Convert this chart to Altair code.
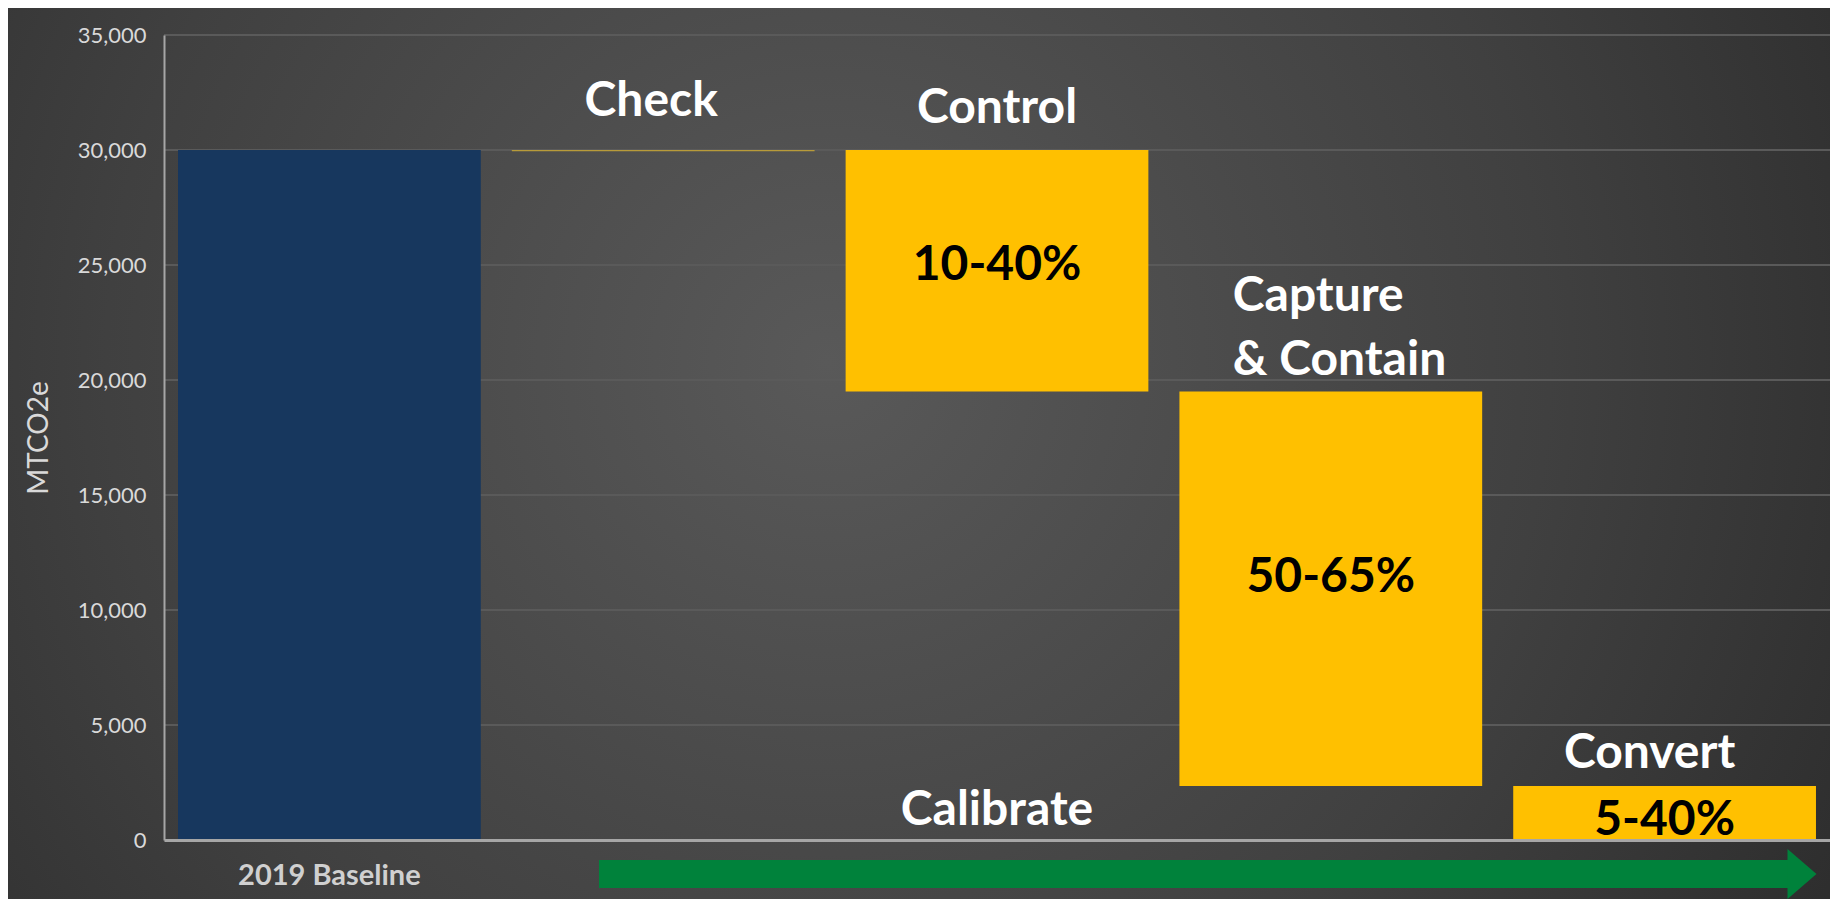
import altair as alt
import pandas as pd

# ---- data -------------------------------------------------------------
categories = ["2019 Baseline", "Check", "Control", "Capture & Contain", "Convert"]
bar_start = [0, 30000, 30000, 19500, 2350]
bar_end = [30000, 29950, 19500, 2350, 0]
bar_kind = ["baseline", "check", "step", "step", "step"]

y_ticks = [0, 5000, 10000, 15000, 20000, 25000, 30000, 35000]

range_cats = ["Control", "Capture & Contain", "Convert"]
range_text = ["10-40%", "50-65%", "5-40%"]

FONT = "Lato"
W, H = 1666, 805
PAD_L, PAD_T, PAD_B = 156, 27, 59

bars_df = pd.DataFrame({"cat": categories, "start": bar_start, "end": bar_end, "kind": bar_kind})
x_scale = alt.Scale(domain=categories, paddingInner=0.093, paddingOuter=0.042)
y_scale = alt.Scale(domain=[0, 35000], nice=False)

# background with radial gradient (decoration)
one = pd.DataFrame({"a": [0]})
background = alt.Chart(one).mark_rect(
    fill={
        "gradient": "radial",
        "x1": 0.45, "y1": 0.45, "r1": 0,
        "x2": 0.45, "y2": 0.45, "r2": 0.72,
        "stops": [
            {"offset": 0, "color": "#595959"},
            {"offset": 0.55, "color": "#404040"},
            {"offset": 1, "color": "#262626"},
        ],
    }
).encode(x=alt.value(-PAD_L), x2=alt.value(W), y=alt.value(-PAD_T), y2=alt.value(H + PAD_B))

grid_df = pd.DataFrame({"v": y_ticks[1:]})
grid = alt.Chart(grid_df).mark_rule(color="#5a5a5a", strokeWidth=2).encode(
    y=alt.Y("v:Q", scale=y_scale), x=alt.value(0), x2=alt.value(W)
)

bars = alt.Chart(bars_df).mark_bar().encode(
    x=alt.X(
        "cat:N", sort=categories, scale=x_scale,
        axis=alt.Axis(
            title=None, labelAngle=0, ticks=False, grid=False, zindex=1, labelLimit=0,
            labelExpr="datum.value == '2019 Baseline' ? datum.value : ''",
            labelFont=FONT, labelFontWeight="bold", labelFontSize=29, labelColor="#d0d0d0",
            labelPadding=21, domainColor="#a6a6a6", domainWidth=3,
        ),
    ),
    y=alt.Y(
        "start:Q", scale=y_scale,
        axis=alt.Axis(
            title="MTCO2e", values=y_ticks, format=",.0f", ticks=False, grid=False, zindex=1,
            labelFont=FONT, labelFontSize=22, labelColor="#d9d9d9", labelPadding=18,
            domainColor="#a6a6a6", domainWidth=2,
            titleFont=FONT, titleFontSize=28, titleFontWeight="normal",
            titleColor="#d9d9d9", titlePadding=24,
        ),
    ),
    y2="end:Q",
    color=alt.Color(
        "kind:N",
        scale=alt.Scale(domain=["baseline", "check", "step"], range=["#17375E", "#b89b3a", "#FFC000"]),
        legend=None,
    ),
)


def label(cat, value, text, dy, color="white", align="center", dx=0):
    df = pd.DataFrame({"cat": [cat], "v": [value], "t": [text]})
    return alt.Chart(df).mark_text(
        font=FONT, fontWeight="bold", fontSize=48, color=color,
        align=align, baseline="middle", dy=dy, dx=dx,
    ).encode(
        x=alt.X("cat:N", sort=categories, scale=x_scale),
        y=alt.Y("v:Q", scale=y_scale),
        text="t:N",
    )


mids = [(s + e) / 2 for c, s, e in zip(categories, bar_start, bar_end) if c in range_cats]

labels = [
    label("Check", bar_start[1], "Check", -48, dx=-12),
    label("Control", bar_start[2], "Control", -41),
    label("Capture & Contain", bar_start[3], "Capture", -95, align="left", dx=-98),
    label("Capture & Contain", bar_start[3], "& Contain", -31, align="left", dx=-98),
    label("Convert", bar_start[4], "Convert", -32, dx=-15),
    label("Control", 0, "Calibrate", -29),
    label(range_cats[0], mids[0], range_text[0], -5, color="black"),
    label(range_cats[1], mids[1], range_text[1], -11, color="black"),
    label(range_cats[2], mids[2], range_text[2], 8, color="black"),
]

arrow_shaft = alt.Chart(one).mark_rect(color="#00823B").encode(
    x=alt.value(435), x2=alt.value(1624), y=alt.value(825), y2=alt.value(853)
)
arrow_head = alt.Chart(one).mark_point(
    shape="M-0.58,-1L0.58,0L-0.58,1Z", filled=True, opacity=1, color="#00823B", size=2500, strokeWidth=0
).encode(x=alt.value(1638), y=alt.value(839))

chart = alt.layer(background, grid, bars, *labels, arrow_shaft, arrow_head).properties(
    width=W, height=H,
    autosize=alt.AutoSizeParams(type="none"),
    padding={"left": PAD_L, "top": PAD_T, "right": 0, "bottom": PAD_B},
).configure(background="#2b2b2b").configure_view(stroke=None)

chart.save("out.html", embed_options={"renderer": "svg", "actions": False})
